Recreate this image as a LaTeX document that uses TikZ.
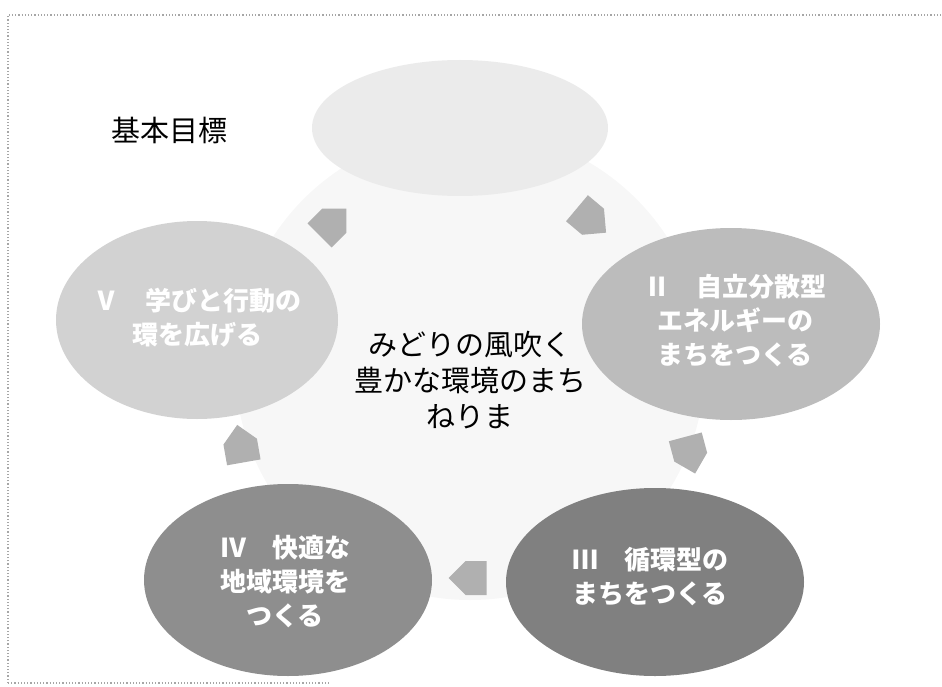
\documentclass[tikz,border=0pt]{standalone}
\usepackage{fontspec}
\usetikzlibrary{shapes.geometric,shapes.symbols}
\newfontfamily\cjk{Noto Sans CJK JP}
\definecolor{ellA}{HTML}{EBEBEB}
\definecolor{ellV}{HTML}{D2D2D2}
\definecolor{ellII}{HTML}{BCBCBC}
\definecolor{ellIV}{HTML}{8E8E8E}
\definecolor{ellIII}{HTML}{808080}
\definecolor{arrowgray}{HTML}{B0B0B0}
\tikzset{
  goal/.style={ellipse, inner sep=0pt, draw=none},
  goaltext/.style={text=white, font=\cjk\bfseries\fontsize{26}{34}\selectfont, align=center},
  centertext/.style={text=black, font=\cjk\fontsize{29}{36}\selectfont, align=center},
  blockarrow/.style={signal, signal to=east, fill=arrowgray, draw=none, minimum width=38pt, minimum height=34pt, inner sep=0pt},
  frameline/.style={gray!70, dotted, line width=1.2pt}
}
\begin{document}
\begin{tikzpicture}[x=1pt,y=-1pt]
\useasboundingbox (0,0) rectangle (942,687);
% frame
\coordinate (fa) at (8,683);
\coordinate (fb) at (8,15);
\coordinate (fc) at (942,15);
\coordinate (fd) at (330,683);
\draw[frameline] (fa) -- (fb) -- (fc);
\draw[frameline] (fa) -- (fd);
% faint centre disc
\fill[gray!6] (470,365) circle [radius=235];
% title
\node[font=\cjk\fontsize{29}{34}\selectfont, anchor=west] (title) at (108,130) {基本目標};
% goals
\node[goal, fill=ellA, minimum width=296pt, minimum height=136pt] (g1) at (460,128) {};
\node[goal, fill=ellV, minimum width=282pt, minimum height=198pt] (g5) at (197,320) {};
\node[goal, fill=ellII, minimum width=298pt, minimum height=192pt] (g2) at (731,324) {};
\node[goal, fill=ellIV, minimum width=288pt, minimum height=192pt] (g4) at (288,580) {};
\node[goal, fill=ellIII, minimum width=298pt, minimum height=188pt] (g3) at (655,582) {};
% goal texts
\node[goaltext] (t5) at (197,318) {Ⅴ　学びと行動の\\環を広げる};
\node[goaltext] (t2) at (735,321) {Ⅱ　自立分散型\\エネルギーの\\まちをつくる};
\node[goaltext] (t3) at (650,577) {Ⅲ　循環型の\\まちをつくる};
\node[goaltext] (t4) at (285,582) {Ⅳ　快適な\\地域環境を\\つくる};
% centre text
\node[centertext] (ct) at (470,380) {みどりの風吹く\\豊かな環境のまち\\ねりま};
% block arrows
\node[blockarrow, rotate=45] (a51) at (327,228) {};
\node[blockarrow, rotate=-40] (a12) at (585,215) {};
\node[blockarrow, rotate=-75] (a23) at (688,447) {};
\node[blockarrow, rotate=180] (a34) at (476,578) {};
\node[blockarrow, rotate=100] (a45) at (242,452) {};
\end{tikzpicture}
\end{document}
